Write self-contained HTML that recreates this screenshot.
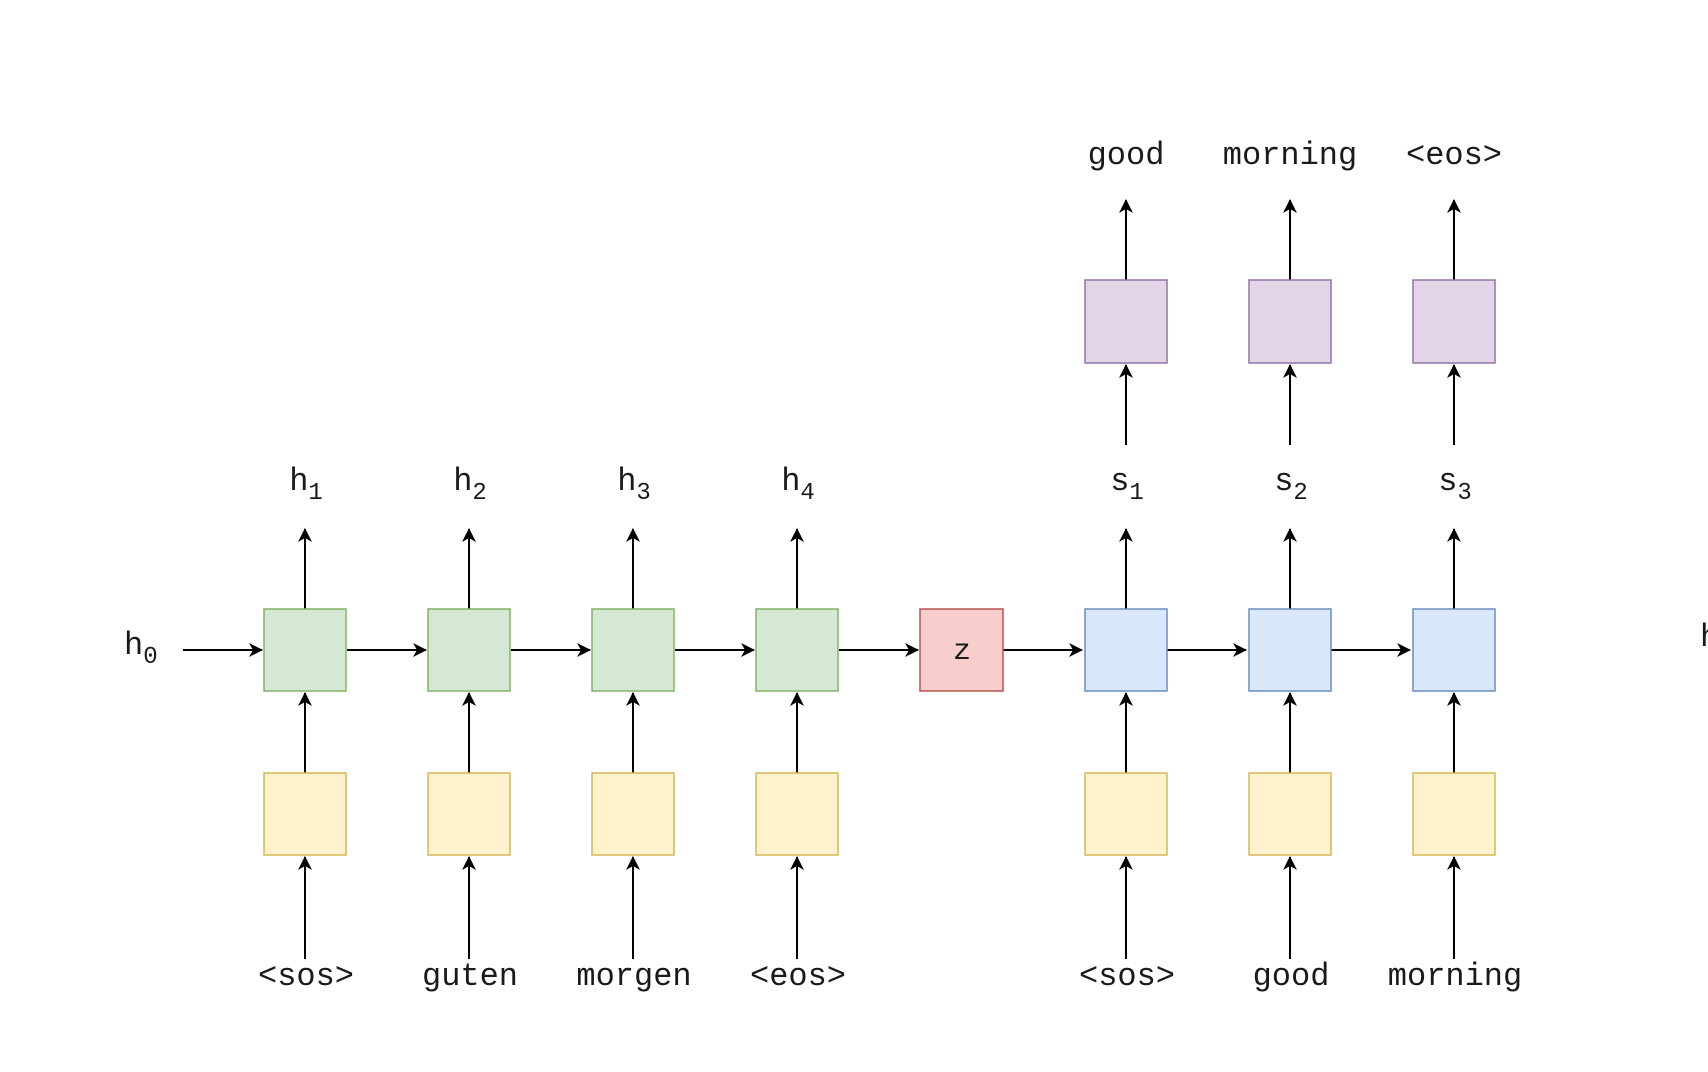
<!DOCTYPE html>
<html><head><meta charset="utf-8"><style>
html,body{margin:0;padding:0;background:#fff;}
svg{display:block}
text{font-family:"Liberation Mono",monospace;font-size:32px;fill:#1a1a1a;}
.sub{font-size:24px;}
</style></head><body>
<svg width="1708" height="1072" viewBox="0 0 1708 1072" xmlns="http://www.w3.org/2000/svg">
<defs>
<marker id="a" markerWidth="16" markerHeight="16" refX="13" refY="7" orient="auto" markerUnits="userSpaceOnUse">
<path d="M0,0 L14,7 L0,14 L4,7 Z" fill="#000"/>
</marker>
</defs>
<g stroke="#000" stroke-width="2" marker-end="url(#a)">
<line x1="183" y1="650" x2="262" y2="650"/>
<line x1="347" y1="650" x2="426" y2="650"/>
<line x1="511" y1="650" x2="590" y2="650"/>
<line x1="675" y1="650" x2="754" y2="650"/>
<line x1="839" y1="650" x2="918" y2="650"/>
<line x1="1003" y1="650" x2="1082" y2="650"/>
<line x1="1167" y1="650" x2="1246" y2="650"/>
<line x1="1331" y1="650" x2="1410" y2="650"/>
<line x1="305" y1="959" x2="305" y2="857"/><line x1="305" y1="773" x2="305" y2="693"/><line x1="305" y1="609" x2="305" y2="529"/>
<line x1="469" y1="959" x2="469" y2="857"/><line x1="469" y1="773" x2="469" y2="693"/><line x1="469" y1="609" x2="469" y2="529"/>
<line x1="633" y1="959" x2="633" y2="857"/><line x1="633" y1="773" x2="633" y2="693"/><line x1="633" y1="609" x2="633" y2="529"/>
<line x1="797" y1="959" x2="797" y2="857"/><line x1="797" y1="773" x2="797" y2="693"/><line x1="797" y1="609" x2="797" y2="529"/>
<line x1="1126" y1="959" x2="1126" y2="857"/><line x1="1126" y1="773" x2="1126" y2="693"/><line x1="1126" y1="609" x2="1126" y2="529"/>
<line x1="1290" y1="959" x2="1290" y2="857"/><line x1="1290" y1="773" x2="1290" y2="693"/><line x1="1290" y1="609" x2="1290" y2="529"/>
<line x1="1454" y1="959" x2="1454" y2="857"/><line x1="1454" y1="773" x2="1454" y2="693"/><line x1="1454" y1="609" x2="1454" y2="529"/>
<line x1="1126" y1="445" x2="1126" y2="365"/><line x1="1126" y1="280" x2="1126" y2="200"/>
<line x1="1290" y1="445" x2="1290" y2="365"/><line x1="1290" y1="280" x2="1290" y2="200"/>
<line x1="1454" y1="445" x2="1454" y2="365"/><line x1="1454" y1="280" x2="1454" y2="200"/>
</g>
<g stroke-width="1.5">
<rect x="264" y="609" width="82" height="82" fill="#d5e8d4" stroke="#82b366"/>
<rect x="428" y="609" width="82" height="82" fill="#d5e8d4" stroke="#82b366"/>
<rect x="592" y="609" width="82" height="82" fill="#d5e8d4" stroke="#82b366"/>
<rect x="756" y="609" width="82" height="82" fill="#d5e8d4" stroke="#82b366"/>
<rect x="920" y="609" width="83" height="82" fill="#f8cecc" stroke="#b85450"/>
<rect x="1085" y="609" width="82" height="82" fill="#dae8fc" stroke="#6c8ebf"/>
<rect x="1249" y="609" width="82" height="82" fill="#dae8fc" stroke="#6c8ebf"/>
<rect x="1413" y="609" width="82" height="82" fill="#dae8fc" stroke="#6c8ebf"/>
<rect x="264" y="773" width="82" height="82" fill="#fff2cc" stroke="#d6b656"/>
<rect x="428" y="773" width="82" height="82" fill="#fff2cc" stroke="#d6b656"/>
<rect x="592" y="773" width="82" height="82" fill="#fff2cc" stroke="#d6b656"/>
<rect x="756" y="773" width="82" height="82" fill="#fff2cc" stroke="#d6b656"/>
<rect x="1085" y="773" width="82" height="82" fill="#fff2cc" stroke="#d6b656"/>
<rect x="1249" y="773" width="82" height="82" fill="#fff2cc" stroke="#d6b656"/>
<rect x="1413" y="773" width="82" height="82" fill="#fff2cc" stroke="#d6b656"/>
<rect x="1085" y="280" width="82" height="83" fill="#e1d5e7" stroke="#9673a6"/>
<rect x="1249" y="280" width="82" height="83" fill="#e1d5e7" stroke="#9673a6"/>
<rect x="1413" y="280" width="82" height="83" fill="#e1d5e7" stroke="#9673a6"/>
</g>
<text x="962" y="659" text-anchor="middle" style="font-size:30px">z</text>
<text x="124" y="654">h<tspan class="sub" dy="9">0</tspan></text>
<text x="1700" y="646">h</text>
<g text-anchor="middle">
<text x="306" y="490">h<tspan class="sub" dy="9">1</tspan></text>
<text x="470" y="490">h<tspan class="sub" dy="9">2</tspan></text>
<text x="634" y="490">h<tspan class="sub" dy="9">3</tspan></text>
<text x="798" y="490">h<tspan class="sub" dy="9">4</tspan></text>
<text x="1127" y="490">s<tspan class="sub" dy="9">1</tspan></text>
<text x="1291" y="490">s<tspan class="sub" dy="9">2</tspan></text>
<text x="1455" y="490">s<tspan class="sub" dy="9">3</tspan></text>
<text x="1126" y="164">good</text>
<text x="1290" y="164">morning</text>
<text x="1454" y="164">&lt;eos&gt;</text>
<text x="306" y="985">&lt;sos&gt;</text>
<text x="470" y="985">guten</text>
<text x="634" y="985">morgen</text>
<text x="798" y="985">&lt;eos&gt;</text>
<text x="1127" y="985">&lt;sos&gt;</text>
<text x="1291" y="985">good</text>
<text x="1455" y="985">morning</text>
</g>
</svg>
</body></html>
